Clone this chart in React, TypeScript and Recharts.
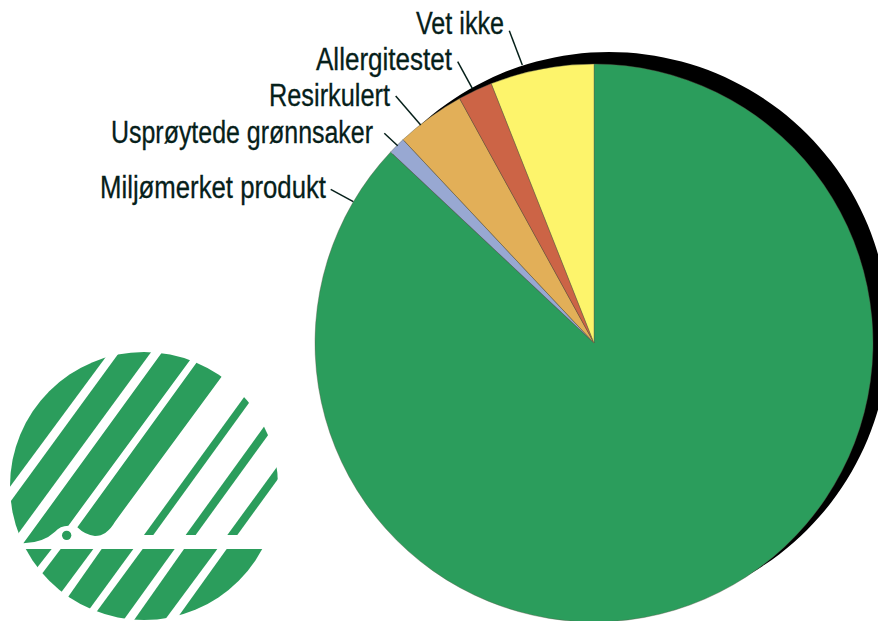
import { Cell, Pie, PieChart } from "recharts";

const categories = [
  "Miljømerket produkt",
  "Usprøytede grønnsaker",
  "Resirkulert",
  "Allergitestet",
  "Vet ikke",
];
const shares = [87, 1, 4, 2, 6];
const sliceColors = ["#2b9d5c", "#98a8d2", "#e2af58", "#cc6446", "#fdf46b"];

const GREEN = sliceColors[0];
const INK = "#06201a";

const rows = categories.map((name, i) => ({ name, value: shares[i] }));
const shadowRows = [{ name: "skygge", value: 100 }];

// text box and leader line for each label, same order as categories
const labelLayout = [
  { x: 100, end: 326, base: 197.5, line: [330.7, 189.3, 353.3, 201.7] },
  { x: 111, end: 373, base: 142.5, line: [384.3, 133.3, 397.7, 145.7] },
  { x: 269, end: 390, base: 105.5, line: [395.7, 96, 420.7, 125] },
  { x: 316, end: 452, base: 69.5, line: [457.7, 61.7, 472.3, 88.3] },
  { x: 416, end: 504, base: 33.5, line: [509.3, 30.7, 522.3, 65] },
];

function renderLabel({ index }: { index: number }) {
  const l = labelLayout[index];
  return (
    <g key={categories[index]}>
      <line x1={l.line[0]} y1={l.line[1]} x2={l.line[2]} y2={l.line[3]} stroke={INK} strokeWidth={1.5} />
      <text
        x={l.x}
        y={l.base}
        textLength={l.end - l.x}
        lengthAdjust="spacingAndGlyphs"
        fill={INK}
        stroke={INK}
        strokeWidth={0.3}
        fontFamily="'Liberation Sans Narrow', 'Liberation Sans', sans-serif"
        fontSize={31}
      >
        {categories[index]}
      </text>
    </g>
  );
}

// the swan mark, traced in a 3x grid
const swanPaths = [
  "M30,440 L318,50 L318,0 L0,0 L0,440 Z",
  "M0,528 L385,0 L480,0 L20,628 Z",
  "M70,610 L510,4 L610,6 L205,557 Q180,557 165,575 Q130,608 70,610 Z",
  "M232,562 L620,26 L700,62 L345,545 Q320,588 285,588 Q255,585 232,562 Z",
  "M432,585 L763,129 L780,143 L460,585 Z",
  "M557,585 L820,221 L835,243 L587,585 Z",
  "M682,585 L860,341 L860,381 L712,585 Z",
  "M40,627 L155,627 L90,710 L40,710 Z",
  "M182,627 L280,627 L140,816 L80,762 Z",
  "M305,627 L400,627 L230,860 L170,820 Z",
  "M428,627 L524,627 L342,880 L262,853 Z",
  "M552,627 L652,627 L467,877 L372,883 Z",
  "M680,627 L870,627 L870,880 L501,877 Z",
];

function SwanMark() {
  return (
    <svg
      width={290}
      height={281}
      viewBox="0 0 870 843"
      style={{ position: "absolute", left: 0, top: 340 }}
    >
      <defs>
        <clipPath id="swan-clip">
          <circle cx={432} cy={438} r={402} />
        </clipPath>
      </defs>
      <g clipPath="url(#swan-clip)" fill={GREEN}>
        {swanPaths.map((d) => (
          <path key={d} d={d} />
        ))}
        <circle cx={200} cy={586} r={14} />
      </g>
    </svg>
  );
}

export default function App() {
  return (
    <div style={{ position: "absolute", left: 0, top: 0, width: 878, height: 621, overflow: "hidden", background: "#fff" }}>
      <SwanMark />
      <div style={{ position: "absolute", left: 0, top: 0 }}>
        <PieChart width={878} height={621} margin={{ top: 0, right: 0, bottom: 0, left: 0 }}>
          <Pie
            data={shadowRows}
            dataKey="value"
            cx={609}
            cy={332}
            outerRadius={280}
            startAngle={90}
            endAngle={-270}
            stroke="none"
            fill="#000"
            isAnimationActive={false}
          />
          <Pie
            data={rows}
            dataKey="value"
            nameKey="name"
            cx={594}
            cy={343}
            outerRadius={279}
            startAngle={90}
            endAngle={-270}
            stroke="#5a5a4a"
            strokeWidth={0.4}
            label={renderLabel}
            labelLine={false}
            isAnimationActive={false}
          >
            {rows.map((r, i) => (
              <Cell key={r.name} fill={sliceColors[i]} />
            ))}
          </Pie>
        </PieChart>
      </div>
    </div>
  );
}
